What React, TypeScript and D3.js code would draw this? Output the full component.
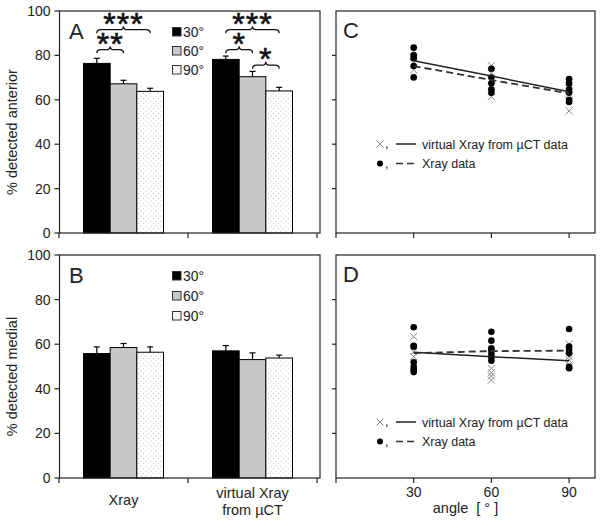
import React from "react";
import * as d3 from "d3";

const groups = ["Xray", "virtual Xray from µCT"];
const groupLines = [["Xray"], ["virtual Xray", "from µCT"]];
const angleLabels = ["30°", "60°", "90°"];
const anteriorMeans = [
  [76.4, 67.2, 63.8],
  [78.2, 70.4, 64.0],
];
const anteriorErr = [
  [2.3, 1.6, 1.4],
  [1.5, 2.4, 1.6],
];
const medialMeans = [
  [55.8, 58.5, 56.4],
  [57.0, 53.1, 53.8],
];
const medialErr = [
  [3.0, 1.8, 2.4],
  [2.4, 3.0, 1.3],
];
// significance: group index, from bar, to bar, bracket level (value), label
const sigGroup = [0, 0, 1, 1, 1];
const sigFrom = [0, 0, 0, 0, 1];
const sigTo = [1, 2, 1, 2, 2];
const sigLevel = [81, 90, 81, 90, 74];
const sigLabel = ["**", "***", "*", "***", "*"];

const yTicks = [0, 20, 40, 60, 80, 100];
const angleTicks = [30, 60, 90];

// panel C (anterior) scatter
const cXrayPts = [
  [83.5, 80.0, 78.7, 75.2, 70.1],
  [74.0, 70.0, 67.4, 64.7, 63.2],
  [69.4, 67.4, 64.7, 63.2, 59.9, 59.0],
];
const cVirtPts = [
  [82.0, 79.0, 76.5, 73.5],
  [75.4, 72.0, 69.0, 66.0, 61.4],
  [67.7, 65.0, 62.0, 60.0, 55.0],
];
const cVirtLine = [77.6, 70.7, 63.6];
const cXrayLine = [75.2, 68.9, 62.9];

// panel D (medial) scatter
const dXrayPts = [
  [67.6, 59.3, 58.9, 51.9, 49.9, 48.6, 47.5],
  [65.6, 61.6, 58.2, 57.2, 55.6, 54.1, 52.6],
  [66.8, 58.9, 57.4, 55.9, 49.9, 49.2],
];
const dVirtPts = [
  [63.4, 56.6, 54.4],
  [49.2, 47.2, 45.7, 43.9],
  [60.1, 54.4, 52.9, 50.7],
];
const dVirtLine = [56.4, 54.4, 52.6];
const dXrayLine = [56.0, 56.9, 57.1];

const FONT = "'Liberation Sans', Arial, Helvetica, sans-serif";
const AX = "#222";

function brace(x1: number, x2: number, yEnd: number, h: number) {
  const xm = (x1 + x2) / 2;
  const ym = yEnd - h / 2;
  const yt = yEnd - h;
  const q = 4;
  return `M${x1},${yEnd} Q${x1},${ym} ${x1 + q},${ym} L${xm - q},${ym} Q${xm},${ym} ${xm},${yt} Q${xm},${ym} ${xm + q},${ym} L${x2 - q},${ym} Q${x2},${ym} ${x2},${yEnd}`;
}

const fills = ["#000", "#c8c8c8", "url(#dots)"];

function BarPanel(props: {
  top: number;
  bottom: number;
  means: number[][];
  errs: number[][];
  letter: string;
  yTitle: string;
  legendY: number;
  legendStep: number;
  showSig: boolean;
  showXLabels: boolean;
}) {
  const { top, bottom, means, errs } = props;
  const left = 59.5;
  const right = 320;
  const y = d3.scaleLinear().domain([0, 100]).range([bottom, top]);
  const xg = d3.scaleBand<string>().domain(groups).range([59, 317]);
  const xs = d3.scaleBand<string>().domain(angleLabels).range([-40, 40]);
  const bw = xs.bandwidth();
  const barCenter = (g: number, a: number) =>
    (xg(groups[g]) as number) + xg.bandwidth() / 2 + (xs(angleLabels[a]) as number) + bw / 2;

  return (
    <g>
      {means.map((row, gi) =>
        row.map((v, ai) => {
          const x0 = barCenter(gi, ai) - bw / 2;
          return (
            <g key={`b${gi}-${ai}`}>
              <line
                x1={barCenter(gi, ai)}
                x2={barCenter(gi, ai)}
                y1={y(v)}
                y2={y(v + errs[gi][ai])}
                stroke="#000"
                strokeWidth={1.2}
              />
              <line
                x1={barCenter(gi, ai) - 3}
                x2={barCenter(gi, ai) + 3}
                y1={y(v + errs[gi][ai])}
                y2={y(v + errs[gi][ai])}
                stroke="#000"
                strokeWidth={1.2}
              />
              <rect
                x={x0}
                y={y(v)}
                width={bw}
                height={y(0) - y(v)}
                fill={fills[ai]}
                stroke="#000"
                strokeWidth={1}
              />
            </g>
          );
        })
      )}
      <rect x={left} y={top} width={right - left} height={bottom - top} fill="none" stroke={AX} strokeWidth={1.2} />
      {yTicks.map((t) => (
        <g key={`yt${t}`}>
          <line x1={left - 5} x2={left} y1={y(t)} y2={y(t)} stroke={AX} strokeWidth={1.2} />
          <text x={left - 9} y={y(t)} dy="0.36em" textAnchor="end" fontSize={14} fontFamily={FONT} fill="#222">
            {t}
          </text>
        </g>
      ))}
      {[59, xg(groups[1]) as number, 317].map((xv, i) => (
        <line key={`xt${i}`} x1={xv} x2={xv} y1={bottom} y2={bottom + 5} stroke={AX} strokeWidth={1.2} />
      ))}
      <text
        transform={`translate(17,${(top + bottom) / 2 + 10}) rotate(-90)`}
        textAnchor="middle"
        fontSize={14.5}
        fontFamily={FONT}
        fill="#222"
      >
        {props.yTitle}
      </text>
      <text x={69} y={top + 28} fontSize={22} fontFamily={FONT} fill="#222">
        {props.letter}
      </text>
      {angleLabels.map((a, i) => (
        <g key={`lg${a}`}>
          <rect
            x={172.5}
            y={props.legendY + i * props.legendStep - 4}
            width={8.5}
            height={8.5}
            fill={fills[i]}
            stroke="#333"
            strokeWidth={1}
          />
          <text
            x={183}
            y={props.legendY + i * props.legendStep + 5}
            fontSize={14}
            fontFamily={FONT}
            fill="#222"
          >
            {a}
          </text>
        </g>
      ))}
      {props.showSig &&
        sigLabel.map((lab, i) => {
          const x1 = barCenter(sigGroup[i], sigFrom[i]);
          const x2 = barCenter(sigGroup[i], sigTo[i]);
          const yEnd = y(sigLevel[i]);
          const tip = yEnd - 7;
          const fs = 32;
          return (
            <g key={`sig${i}`}>
              <path d={brace(x1, x2, yEnd, 7)} fill="none" stroke="#111" strokeWidth={1.3} />
              <text
                x={(x1 + x2) / 2}
                y={tip - 10 + 0.58 * fs}
                textAnchor="middle"
                fontSize={fs}
                fontFamily={FONT}
                fill="#111"
                stroke="#111"
                strokeWidth={0.6}
                letterSpacing={1}
              >
                {lab}
              </text>
            </g>
          );
        })}
      {props.showXLabels &&
        groupLines.map((lines, gi) => {
          const cx = (xg(groups[gi]) as number) + xg.bandwidth() / 2;
          const base = lines.length === 1 ? bottom + 27 : bottom + 20;
          return (
            <text key={`gl${gi}`} textAnchor="middle" fontSize={14.5} fontFamily={FONT} fill="#222">
              {lines.map((l, li) => (
                <tspan key={li} x={cx} y={base + li * 17}>
                  {l}
                </tspan>
              ))}
            </text>
          );
        })}
    </g>
  );
}

function ScatterPanel(props: {
  top: number;
  bottom: number;
  letter: string;
  xrayPts: number[][];
  virtPts: number[][];
  virtLine: number[];
  xrayLine: number[];
  legendY: number;
  showXLabels: boolean;
}) {
  const { top, bottom } = props;
  const left = 336;
  const right = 595;
  const x = d3.scaleLinear().domain([0, 100]).range([left, right]);
  const y = d3.scaleLinear().domain([0, 100]).range([bottom, top]);
  const line = d3
    .line<number>()
    .x((_, i) => x(angleTicks[i]))
    .y((d) => y(d));
  const cross = "M-3.5,-3.5L3.5,3.5M-3.5,3.5L3.5,-3.5";
  return (
    <g>
      <rect x={left} y={top} width={right - left} height={bottom - top} fill="none" stroke={AX} strokeWidth={1.2} />
      {yTicks.slice(1, -1).map((t) => (
        <line key={`yt${t}`} x1={left - 4} x2={left} y1={y(t)} y2={y(t)} stroke={AX} strokeWidth={1.2} />
      ))}
      {[0, ...angleTicks].map((t) => (
        <line key={`xt${t}`} x1={x(t)} x2={x(t)} y1={bottom} y2={bottom + 5} stroke={AX} strokeWidth={1.2} />
      ))}
      {props.showXLabels &&
        angleTicks.map((t) => (
          <text key={`xl${t}`} x={x(t)} y={bottom + 19} textAnchor="middle" fontSize={14} fontFamily={FONT} fill="#222">
            {t}
          </text>
        ))}
      {props.showXLabels && (
        <text x={(left + right) / 2} y={bottom + 35} textAnchor="middle" fontSize={14.5} fontFamily={FONT} fill="#222">
          {"angle\u00a0 [ ° ]"}
        </text>
      )}
      <text x={343} y={top + 27} fontSize={22} fontFamily={FONT} fill="#222">
        {props.letter}
      </text>
      {props.virtPts.map((arr, i) =>
        arr.map((v, j) => (
          <path key={`v${i}-${j}`} d={cross} transform={`translate(${x(angleTicks[i])},${y(v)})`} stroke="#888" strokeWidth={1} fill="none" />
        ))
      )}
      {props.xrayPts.map((arr, i) =>
        arr.map((v, j) => <circle key={`c${i}-${j}`} cx={x(angleTicks[i])} cy={y(v)} r={3.3} fill="#000" />)
      )}
      <path d={line(props.virtLine) as string} fill="none" stroke="#222" strokeWidth={1.5} />
      <path d={line(props.xrayLine) as string} fill="none" stroke="#333" strokeWidth={1.8} strokeDasharray="7,4" />
      <path d={cross} transform={`translate(380,${props.legendY})`} stroke="#888" strokeWidth={1} fill="none" />
      <text x={385} y={props.legendY + 4} fontSize={12.5} fontFamily={FONT} fill="#222">,</text>
      <line x1={396} x2={416} y1={props.legendY} y2={props.legendY} stroke="#222" strokeWidth={1.5} />
      <text x={422} y={props.legendY + 4.5} fontSize={12.5} fontFamily={FONT} fill="#222">
        virtual Xray from µCT data
      </text>
      <circle cx={380} cy={props.legendY + 19.5} r={3} fill="#000" />
      <text x={385} y={props.legendY + 23.5} fontSize={12.5} fontFamily={FONT} fill="#222">,</text>
      <line x1={396} x2={416} y1={props.legendY + 19.5} y2={props.legendY + 19.5} stroke="#333" strokeWidth={1.5} strokeDasharray="7,4" />
      <text x={422} y={props.legendY + 24} fontSize={12.5} fontFamily={FONT} fill="#222">
        Xray data
      </text>
    </g>
  );
}

export default function App() {
  return (
    <svg
      width={602}
      height={530}
      viewBox="0 0 602 530"
      style={{ position: "absolute", left: 0, top: 0, background: "#fff" }}
    >
      <defs>
        <pattern id="dots" width={5} height={5} patternUnits="userSpaceOnUse">
          <rect width={5} height={5} fill="#fff" />
          <circle cx={1} cy={1} r={0.5} fill="#aaa" />
          <circle cx={3.5} cy={3.5} r={0.5} fill="#bbb" />
        </pattern>
      </defs>
      <BarPanel
        top={11}
        bottom={233}
        means={anteriorMeans}
        errs={anteriorErr}
        letter="A"
        yTitle="% detected anterior"
        legendY={31.5}
        legendStep={19}
        showSig={true}
        showXLabels={false}
      />
      <BarPanel
        top={255}
        bottom={478}
        means={medialMeans}
        errs={medialErr}
        letter="B"
        yTitle="% detected medial"
        legendY={275.5}
        legendStep={20}
        showSig={false}
        showXLabels={true}
      />
      <ScatterPanel
        top={11}
        bottom={233}
        letter="C"
        xrayPts={cXrayPts}
        virtPts={cVirtPts}
        virtLine={cVirtLine}
        xrayLine={cXrayLine}
        legendY={144}
        showXLabels={false}
      />
      <ScatterPanel
        top={255}
        bottom={478}
        letter="D"
        xrayPts={dXrayPts}
        virtPts={dVirtPts}
        virtLine={dVirtLine}
        xrayLine={dXrayLine}
        legendY={422}
        showXLabels={true}
      />
    </svg>
  );
}
